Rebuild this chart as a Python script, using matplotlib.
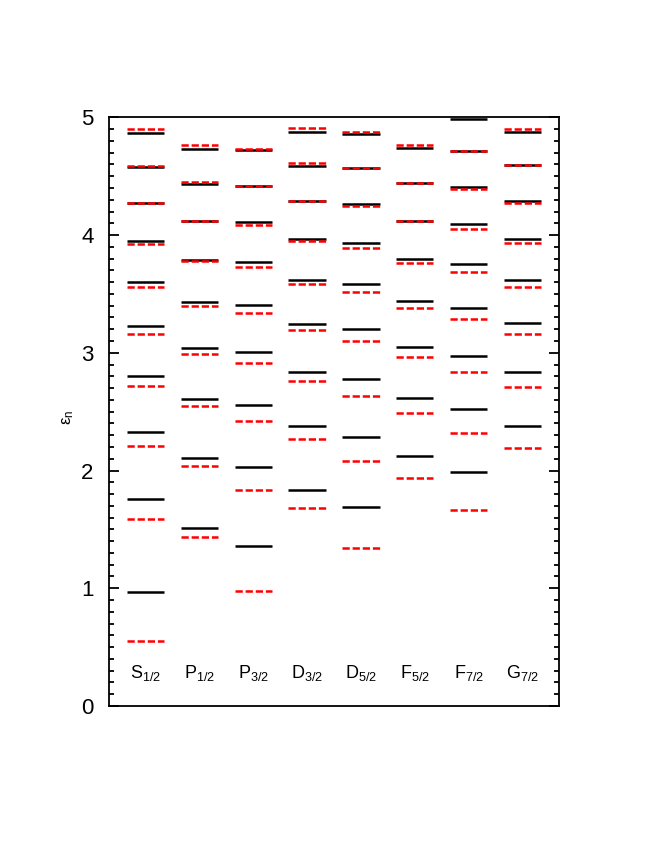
import matplotlib
matplotlib.use('Agg')
import matplotlib.pyplot as plt
from matplotlib.ticker import MultipleLocator

plt.rcParams['font.family'] = ['Liberation Sans', 'DejaVu Sans']
plt.rcParams['mathtext.default'] = 'regular'

states = ['S', 'P', 'P', 'D', 'D', 'F', 'F', 'G']
jvals = ['1/2', '1/2', '3/2', '3/2', '5/2', '5/2', '7/2', '7/2']

# black solid levels
levels_a = [
    [0.966, 1.759, 2.33, 2.806, 3.226, 3.60, 3.95, 4.27, 4.58, 4.868],
    [1.512, 2.11, 2.608, 3.039, 3.435, 3.79, 4.123, 4.438, 4.73],
    [1.359, 2.03, 2.557, 3.008, 3.41, 3.772, 4.109, 4.42, 4.72],
    [1.838, 2.379, 2.838, 3.245, 3.619, 3.965, 4.288, 4.588, 4.877],
    [1.688, 2.288, 2.776, 3.20, 3.583, 3.936, 4.263, 4.568, 4.86],
    [2.124, 2.619, 3.048, 3.441, 3.795, 4.123, 4.446, 4.738],
    [1.985, 2.521, 2.976, 3.384, 3.753, 4.093, 4.412, 4.71, 4.99],
    [2.382, 2.838, 3.251, 3.622, 3.965, 4.29, 4.596, 4.877],
]

# red dashed levels
levels_b = [
    [0.552, 1.589, 2.209, 2.716, 3.158, 3.557, 3.925, 4.27, 4.59, 4.90],
    [1.439, 2.042, 2.549, 2.993, 3.398, 3.778, 4.12, 4.45, 4.763],
    [0.98, 1.833, 2.421, 2.912, 3.341, 3.727, 4.087, 4.42, 4.735],
    [1.685, 2.271, 2.761, 3.195, 3.588, 3.951, 4.288, 4.61, 4.91],
    [1.345, 2.082, 2.636, 3.104, 3.515, 3.894, 4.246, 4.568, 4.877],
    [1.937, 2.492, 2.963, 3.379, 3.761, 4.118, 4.446, 4.761],
    [1.668, 2.319, 2.838, 3.285, 3.687, 4.055, 4.395, 4.71],
    [2.19, 2.71, 3.158, 3.563, 3.934, 4.276, 4.596, 4.902],
]

fig = plt.figure(figsize=(6.54, 8.46), dpi=100)
ax = fig.add_axes([0.1667, 0.1655, 0.688, 0.6958])

hw = 0.345
for i in range(len(states)):
    c = i + 1
    for e in levels_a[i]:
        ax.plot([c - hw, c + hw], [e, e], color='black', lw=1.8, solid_capstyle='butt')
    for e in levels_b[i]:
        ax.plot([c - hw, c + hw], [e, e], color='red', lw=1.8, dashes=(2.9, 1.15))
    ax.text(c, 0.28, states[i] + '$_{' + jvals[i] + '}$', ha='center', va='center',
            fontsize=13)

ax.set_xlim(0.325, 8.675)
ax.set_ylim(0, 5)
ax.set_xticks([])
ax.yaxis.set_major_locator(MultipleLocator(1))
ax.yaxis.set_minor_locator(MultipleLocator(0.1))
ax.tick_params(axis='y', which='both', direction='in', left=True, right=True,
               labelsize=16, width=1.3, pad=11)
ax.tick_params(axis='y', which='major', length=7)
ax.tick_params(axis='y', which='minor', length=3.5)
for s in ax.spines.values():
    s.set_linewidth(1.3)

ax.set_ylabel('ε$_n$', fontsize=12)
ax.yaxis.set_label_coords(-0.073, 0.49)

fig.savefig('out.png', dpi=100)
